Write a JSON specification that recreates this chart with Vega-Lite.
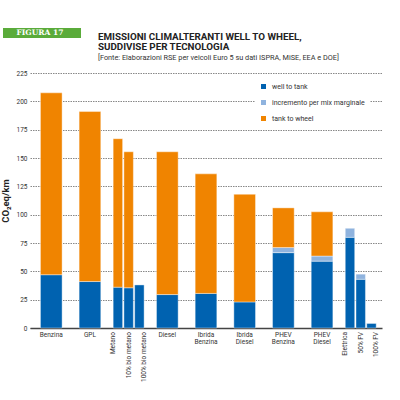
{
  "$schema": "https://vega.github.io/schema/vega-lite/v6.json",
  "width": 352,
  "height": 255,
  "autosize": "none",
  "padding": {"left": 30, "top": 73, "right": 18, "bottom": 72},
  "title": {
    "text": ["EMISSIONI CLIMALTERANTI WELL TO WHEEL,", "SUDDIVISE PER TECNOLOGIA"],
    "subtitle": "[Fonte: Elaborazioni RSE per veicoli Euro 5 su dati ISPRA, MiSE, EEA e DOE]",
    "anchor": "start",
    "frame": "group",
    "dx": 68,
    "offset": -33,
    "font": "Roboto",
    "fontSize": 9.8,
    "fontWeight": "bold",
    "color": "#222222",
    "lineHeight": 9.7,
    "subtitleFont": "Roboto",
    "subtitleFontSize": 7.3,
    "subtitleColor": "#333333",
    "subtitlePadding": 2
  },
  "data": {
    "values": [
      {"gruppo": "Benzina", "voce": "Benzina", "componente": "well to tank", "valore": 47},
      {"gruppo": "Benzina", "voce": "Benzina", "componente": "tank to wheel", "valore": 160.5},
      {"gruppo": "GPL", "voce": "GPL", "componente": "well to tank", "valore": 41},
      {"gruppo": "GPL", "voce": "GPL", "componente": "tank to wheel", "valore": 150},
      {"gruppo": "Metano", "voce": "Metano", "componente": "well to tank", "valore": 36},
      {"gruppo": "Metano", "voce": "Metano", "componente": "tank to wheel", "valore": 131},
      {"gruppo": "Metano", "voce": "10% bio metano", "componente": "well to tank", "valore": 35.5},
      {"gruppo": "Metano", "voce": "10% bio metano", "componente": "tank to wheel", "valore": 120},
      {"gruppo": "Metano", "voce": "100% bio metano", "componente": "well to tank", "valore": 38},
      {"gruppo": "Diesel", "voce": "Diesel", "componente": "well to tank", "valore": 29.5},
      {"gruppo": "Diesel", "voce": "Diesel", "componente": "tank to wheel", "valore": 126},
      {"gruppo": "Ibrida Benzina", "voce": "Ibrida Benzina", "componente": "well to tank", "valore": 30.5},
      {"gruppo": "Ibrida Benzina", "voce": "Ibrida Benzina", "componente": "tank to wheel", "valore": 105.5},
      {"gruppo": "Ibrida Diesel", "voce": "Ibrida Diesel", "componente": "well to tank", "valore": 23},
      {"gruppo": "Ibrida Diesel", "voce": "Ibrida Diesel", "componente": "tank to wheel", "valore": 95},
      {"gruppo": "PHEV Benzina", "voce": "PHEV Benzina", "componente": "well to tank", "valore": 66.5},
      {"gruppo": "PHEV Benzina", "voce": "PHEV Benzina", "componente": "incremento per mix marginale", "valore": 4.5},
      {"gruppo": "PHEV Benzina", "voce": "PHEV Benzina", "componente": "tank to wheel", "valore": 35},
      {"gruppo": "PHEV Diesel", "voce": "PHEV Diesel", "componente": "well to tank", "valore": 59},
      {"gruppo": "PHEV Diesel", "voce": "PHEV Diesel", "componente": "incremento per mix marginale", "valore": 4.5},
      {"gruppo": "PHEV Diesel", "voce": "PHEV Diesel", "componente": "tank to wheel", "valore": 39},
      {"gruppo": "Elettrica", "voce": "Elettrica", "componente": "well to tank", "valore": 80},
      {"gruppo": "Elettrica", "voce": "Elettrica", "componente": "incremento per mix marginale", "valore": 8},
      {"gruppo": "Elettrica", "voce": "50% FV", "componente": "well to tank", "valore": 43},
      {"gruppo": "Elettrica", "voce": "50% FV", "componente": "incremento per mix marginale", "valore": 4.5},
      {"gruppo": "Elettrica", "voce": "100% FV", "componente": "well to tank", "valore": 4}
    ]
  },
  "transform": [
    {"calculate": "indexof(['well to tank','incremento per mix marginale','tank to wheel'], datum.componente)", "as": "ordine"}
  ],
  "layer": [
    {
      "transform": [{"filter": "datum.gruppo != 'Metano' && datum.gruppo != 'Elettrica'"}],
      "mark": {"type": "bar", "width": {"band": 0.7}, "stroke": "#ffffff", "strokeWidth": 0.4},
      "encoding": {
        "x": {
          "field": "gruppo", "type": "nominal",
          "scale": {"domain": ["Benzina", "GPL", "Metano", "Diesel", "Ibrida Benzina", "Ibrida Diesel", "PHEV Benzina", "PHEV Diesel", "Elettrica"], "paddingInner": 0.2, "paddingOuter": 0.15},
          "axis": {
            "title": null, "labelAngle": 0, "ticks": false, "domainColor": "#444444", "domainWidth": 1.5,
            "labelExpr": "datum.value == 'Metano' || datum.value == 'Elettrica' ? '' : split(datum.value, ' ')",
            "labelFont": "Roboto", "labelFontSize": 6.5, "labelColor": "#333333", "labelPadding": 3, "labelLineHeight": 7.5, "labelBaseline": "top"
          }
        },
        "y": {
          "field": "valore", "type": "quantitative", "aggregate": "sum", "stack": "zero",
          "scale": {"domain": [0, 225], "nice": false},
          "axis": {
            "title": "CO₂eq/km", "titleFont": "Roboto", "titleFontSize": 9.5, "titleFontWeight": "bold", "titleColor": "#222222", "titlePadding": 6,
            "values": [0, 25, 50, 75, 100, 125, 150, 175, 200, 225], "labelOverlap": false,
            "domain": false, "ticks": false, "labelPadding": 3,
            "labelFont": "Roboto", "labelFontSize": 6.5, "labelColor": "#333333",
            "grid": true, "gridDash": [1.5, 1], "gridColor": "#555555", "gridWidth": 0.7
          }
        },
        "color": {
          "field": "componente", "type": "nominal",
          "scale": {"domain": ["well to tank", "incremento per mix marginale", "tank to wheel"], "range": ["#0062b0", "#8fb3de", "#f08400"]},
          "legend": {
            "orient": "none", "legendX": 225, "legendY": 5, "title": null, "fillColor": "#ffffff", "padding": 5,
            "symbolType": "square", "symbolSize": 25, "symbolStrokeWidth": 0, "labelFont": "Roboto", "labelFontSize": 7,
            "labelColor": "#333333", "rowPadding": 8, "labelOffset": 5
          }
        },
        "order": {"field": "ordine", "type": "quantitative"}
      }
    },
    {
      "transform": [{"filter": "datum.gruppo == 'Metano'"}],
      "mark": {"type": "bar", "stroke": "#ffffff", "strokeWidth": 0.4},
      "encoding": {
        "x": {"field": "gruppo", "type": "nominal"},
        "xOffset": {"field": "voce", "type": "nominal", "scale": {"domain": ["Metano", "10% bio metano", "100% bio metano"], "paddingInner": 0.12, "paddingOuter": 0}},
        "y": {
          "field": "valore", "type": "quantitative", "aggregate": "sum", "stack": "zero",
          "axis": {
            "title": "CO₂eq/km", "titleFont": "Roboto", "titleFontSize": 9.5, "titleFontWeight": "bold", "titleColor": "#222222", "titlePadding": 6,
            "values": [0, 25, 50, 75, 100, 125, 150, 175, 200, 225], "labelOverlap": false,
            "domain": false, "ticks": false, "labelPadding": 3,
            "labelFont": "Roboto", "labelFontSize": 6.5, "labelColor": "#333333",
            "grid": true, "gridDash": [1.5, 1], "gridColor": "#555555", "gridWidth": 0.7
          }
        },
        "color": {"field": "componente", "type": "nominal"},
        "order": {"field": "ordine", "type": "quantitative"}
      }
    },
    {
      "transform": [{"filter": "datum.gruppo == 'Metano' && datum.componente == 'well to tank'"}],
      "mark": {"type": "text", "angle": 270, "align": "right", "baseline": "middle", "dx": -4, "font": "Roboto", "fontSize": 6.5, "color": "#333333"},
      "encoding": {
        "x": {"field": "gruppo", "type": "nominal"},
        "xOffset": {"field": "voce", "type": "nominal", "scale": {"domain": ["Metano", "10% bio metano", "100% bio metano"], "paddingInner": 0.12, "paddingOuter": 0}},
        "y": {"datum": 0, "type": "quantitative",
          "axis": {
            "title": "CO₂eq/km", "titleFont": "Roboto", "titleFontSize": 9.5, "titleFontWeight": "bold", "titleColor": "#222222", "titlePadding": 6,
            "values": [0, 25, 50, 75, 100, 125, 150, 175, 200, 225], "labelOverlap": false,
            "domain": false, "ticks": false, "labelPadding": 3,
            "labelFont": "Roboto", "labelFontSize": 6.5, "labelColor": "#333333",
            "grid": true, "gridDash": [1.5, 1], "gridColor": "#555555", "gridWidth": 0.7
          }
        },
        "text": {"field": "voce"}
      }
    },
    {
      "transform": [{"filter": "datum.gruppo == 'Elettrica'"}],
      "mark": {"type": "bar", "stroke": "#ffffff", "strokeWidth": 0.4},
      "encoding": {
        "x": {"field": "gruppo", "type": "nominal"},
        "xOffset": {"field": "voce", "type": "nominal", "scale": {"domain": ["Elettrica", "50% FV", "100% FV"], "paddingInner": 0.12, "paddingOuter": 0}},
        "y": {
          "field": "valore", "type": "quantitative", "aggregate": "sum", "stack": "zero",
          "axis": {
            "title": "CO₂eq/km", "titleFont": "Roboto", "titleFontSize": 9.5, "titleFontWeight": "bold", "titleColor": "#222222", "titlePadding": 6,
            "values": [0, 25, 50, 75, 100, 125, 150, 175, 200, 225], "labelOverlap": false,
            "domain": false, "ticks": false, "labelPadding": 3,
            "labelFont": "Roboto", "labelFontSize": 6.5, "labelColor": "#333333",
            "grid": true, "gridDash": [1.5, 1], "gridColor": "#555555", "gridWidth": 0.7
          }
        },
        "color": {"field": "componente", "type": "nominal"},
        "order": {"field": "ordine", "type": "quantitative"}
      }
    },
    {
      "transform": [{"filter": "datum.gruppo == 'Elettrica' && datum.componente == 'well to tank'"}],
      "mark": {"type": "text", "angle": 270, "align": "right", "baseline": "middle", "dx": -4, "font": "Roboto", "fontSize": 6.5, "color": "#333333"},
      "encoding": {
        "x": {"field": "gruppo", "type": "nominal"},
        "xOffset": {"field": "voce", "type": "nominal", "scale": {"domain": ["Elettrica", "50% FV", "100% FV"], "paddingInner": 0.12, "paddingOuter": 0}},
        "y": {"datum": 0, "type": "quantitative",
          "axis": {
            "title": "CO₂eq/km", "titleFont": "Roboto", "titleFontSize": 9.5, "titleFontWeight": "bold", "titleColor": "#222222", "titlePadding": 6,
            "values": [0, 25, 50, 75, 100, 125, 150, 175, 200, 225], "labelOverlap": false,
            "domain": false, "ticks": false, "labelPadding": 3,
            "labelFont": "Roboto", "labelFontSize": 6.5, "labelColor": "#333333",
            "grid": true, "gridDash": [1.5, 1], "gridColor": "#555555", "gridWidth": 0.7
          }
        },
        "text": {"field": "voce"}
      }
    },
    {
      "data": {"values": [{"figura": "FIGURA 17"}]},
      "mark": {"type": "point", "opacity": 0},
      "encoding": {
        "shape": {
          "field": "figura", "type": "nominal",
          "legend": {
            "orient": "none", "legendX": -27, "legendY": -45, "title": null, "fillColor": "#5aab3a", "padding": 1,
            "symbolSize": 0, "symbolOpacity": 0, "symbolStrokeWidth": 0, "labelOffset": 5, "labelColor": "#ffffff",
            "labelFont": "DejaVu Serif", "labelFontWeight": "bold", "labelFontSize": 7.5,
            "labelExpr": "datum.label + '\u00a0\u00a0\u00a0\u00a0\u00a0\u00a0\u200b'"
          }
        }
      }
    }
  ],
  "resolve": {"scale": {"xOffset": "independent"}},
  "config": {"view": {"stroke": null}, "background": "#ffffff"}
}
